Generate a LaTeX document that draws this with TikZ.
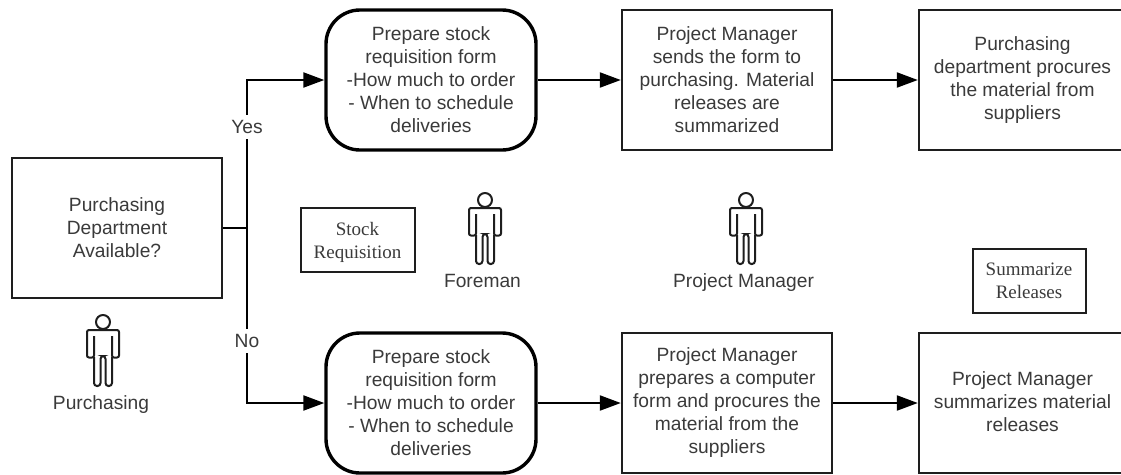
\documentclass[tikz,border=0pt]{standalone}
\usepackage{fontspec}
\setmainfont{Liberation Sans}
\newfontfamily\serifface{Liberation Serif}
\usetikzlibrary{arrows.meta}
\definecolor{txt}{HTML}{3A3A3A}
\definecolor{ink}{HTML}{1E1E1E}
\tikzset{
  x=1pt,y=-1pt,
  every node/.style={font=\fontsize{19.2}{23}\selectfont,text=txt,align=center,inner sep=0pt},
  box/.style={draw=ink,line width=2.4pt,minimum width=#1,minimum height=140pt},
  box/.default=210pt,
  roundbox/.style={draw=black,line width=3.4pt,rounded corners=34pt,minimum width=210pt,minimum height=140pt},
  notebox/.style={draw=ink,line width=2pt,font=\serifface\fontsize{19}{23}\selectfont},
  conn/.style={draw=black,line width=2.2pt},
  flow/.style={conn,-{Triangle[length=21pt,width=15pt]}},
  lab/.style={fill=white,inner xsep=1pt,inner ysep=5pt},
  personlabel/.style={anchor=base},
  person/.pic={
    \draw[ink,line width=2pt,line join=round] (0,0) circle (7);
    \draw[ink,line width=2pt,rounded corners=2pt]
      (-9,14) -- (-9,35.5) -- (-16,35.5) -- (-16,8) -- (16,8) -- (16,35.5) -- (9,35.5) -- (9,14);
    \draw[ink,line width=2pt,rounded corners=3pt]
      (-9,35) -- (-9,64) -- (-2.5,64) -- (-2.5,34) -- (2.5,34) -- (2.5,64) -- (9,64) -- (9,35);
  }
}
\begin{document}
\begin{tikzpicture}
\useasboundingbox (0,0) rectangle (1121,474);
\begin{scope}
\clip (0,0) rectangle (1121,474);
\node[box=226pt] (b1) at (1032,80) {};
\node[box=226pt] (b2) at (1032,403) {};
\end{scope}
\node (b1t) at (1022.5,80) {Purchasing\\department procures\\the material from\\suppliers};
\node (b2t) at (1022.5,402) {Project Manager\\summarizes material\\releases};
\node[box] (q) at (117,228) {Purchasing\\Department\\Available?};
\node[roundbox] (r1) at (431,80) {Prepare stock\\requisition form\\-How much to order\\- When to schedule\\deliveries};
\node[box] (a1) at (727,80) {Project Manager\\sends the form to\\purchasing. Material\\releases are\\summarized};
\node[roundbox] (r2) at (431,403) {Prepare stock\\requisition form\\-How much to order\\- When to schedule\\deliveries};
\node[box] (a2) at (727,403) {Project Manager\\prepares a computer\\form and procures the\\material from the\\suppliers};
\node[notebox,minimum width=114pt,minimum height=64pt] (sr) at (357.5,239.5) {\rule{0pt}{20pt}Stock\\Requisition};
\node[notebox,minimum width=113pt,minimum height=64pt] (sm) at (1029,280.5) {Summarize\\Releases};
\coordinate (j) at (247,228);
\coordinate (t) at (247,80);
\coordinate (d) at (247,403);
\draw[conn] (q.east) -- (j);
\draw[flow] (j) -- (t) -- (r1.west);
\draw[flow] (j) -- (d) -- (r2.west);
\node[lab] (yes) at (247,127) {Yes};
\node[lab] (no) at (247,341) {No};
\draw[flow] (r1) -- (a1);
\draw[flow] (a1) -- (b1);
\draw[flow] (r2) -- (a2);
\draw[flow] (a2) -- (b2);
\pic at (103,322) {person};
\pic at (485,200) {person};
\pic at (746,200) {person};
\node[personlabel] (p1) at (101,409) {Purchasing};
\node[personlabel] (p2) at (482.5,287) {Foreman};
\node[personlabel] (p3) at (743.5,287) {Project Manager};
\end{tikzpicture}
\end{document}
